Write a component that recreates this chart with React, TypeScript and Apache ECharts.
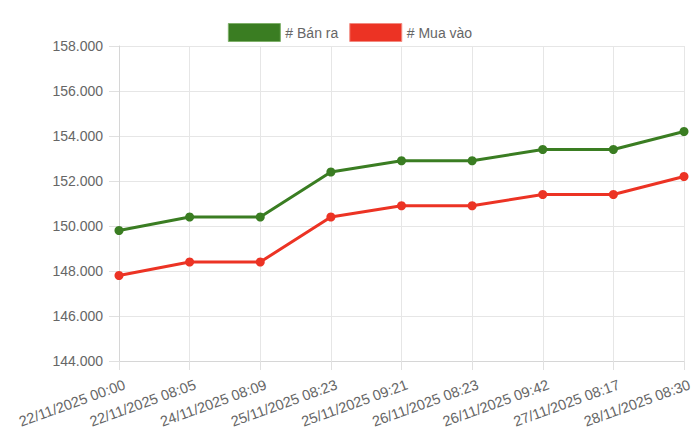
import React, { useEffect, useRef } from "react";
import * as echarts from "echarts";

const categories = [
  "22/11/2025 00:00",
  "22/11/2025 08:05",
  "24/11/2025 08:09",
  "25/11/2025 08:23",
  "25/11/2025 09:21",
  "26/11/2025 08:23",
  "26/11/2025 09:42",
  "27/11/2025 08:17",
  "28/11/2025 08:30",
];
const banRa = [149800, 150400, 150400, 152400, 152900, 152900, 153400, 153400, 154200];
const muaVao = [147800, 148400, 148400, 150400, 150900, 150900, 151400, 151400, 152200];
const seriesNames = ["# Bán ra", "# Mua vào"];
const yMin = 144000;
const yMax = 158000;
const yStep = 2000;

const FONT = "'Liberation Sans', Arial, Helvetica, sans-serif";
const GREEN = "#3a7d22";
const RED = "#ec3324";

function fmt(v: number): string {
  return String(Math.round(v)).replace(/\B(?=(\d{3})+(?!\d))/g, ".");
}

export default function App() {
  const ref = useRef<HTMLDivElement>(null);
  useEffect(() => {
    if (!ref.current) return;
    const chart = echarts.init(ref.current, null, { renderer: "svg" });
    chart.setOption({
      animation: false,
      textStyle: { fontFamily: FONT },
      legend: {
        top: 18,
        left: "center",
        itemWidth: 52,
        itemHeight: 18,
        itemGap: 11,
        icon: "rect",
        textStyle: { fontSize: 14, color: "#666", fontFamily: FONT, padding: [0, 0, 0, 0] },
        data: [
          { name: seriesNames[0], itemStyle: { color: GREEN, borderColor: "#7fb06a", borderWidth: 1 } },
          { name: seriesNames[1], itemStyle: { color: RED, borderColor: "#f28a80", borderWidth: 1 } },
        ],
      },
      grid: { left: 119, right: 16, top: 46, bottom: 77, containLabel: false },
      xAxis: {
        type: "category",
        data: categories,
        boundaryGap: false,
        axisLine: { show: true, lineStyle: { color: "#d6d6d6", width: 1 } },
        axisTick: { show: true, length: 9, alignWithLabel: true, lineStyle: { color: "#e0e0e0" } },
        splitLine: { show: true, lineStyle: { color: "#e6e6e6", width: 1 } },
        axisLabel: {
          rotate: 20,
          interval: 0,
          fontSize: 14.5,
          color: "#666",
          fontFamily: FONT,
          margin: 25,
          padding: [0, -6, 0, 0],
        },
      },
      yAxis: {
        type: "value",
        min: yMin,
        max: yMax,
        interval: yStep,
        axisLine: { show: true, lineStyle: { color: "#d6d6d6", width: 1 } },
        axisTick: { show: true, length: 10, lineStyle: { color: "#e0e0e0" } },
        splitLine: { show: true, lineStyle: { color: "#e6e6e6", width: 1 } },
        axisLabel: {
          fontSize: 14,
          color: "#666",
          fontFamily: FONT,
          margin: 16,
          formatter: (v: number) => fmt(v),
        },
      },
      series: [
        {
          name: seriesNames[0],
          type: "line",
          data: banRa,
          symbol: "circle",
          symbolSize: 9,
          lineStyle: { color: GREEN, width: 3 },
          itemStyle: { color: GREEN },
        },
        {
          name: seriesNames[1],
          type: "line",
          data: muaVao,
          symbol: "circle",
          symbolSize: 9,
          lineStyle: { color: RED, width: 3 },
          itemStyle: { color: RED },
        },
      ],
    });
    return () => chart.dispose();
  }, []);
  return <div ref={ref} style={{ width: 700, height: 438, position: "absolute", left: 0, top: 0 }} />;
}
